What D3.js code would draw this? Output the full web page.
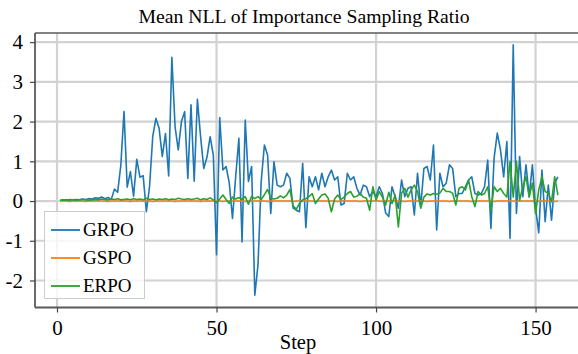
<!DOCTYPE html>
<html>
<head>
<meta charset="utf-8">
<script src="https://cdn.jsdelivr.net/npm/d3@7"></script>
<style>
  html, body { margin: 0; padding: 0; background: #fff; }
  svg { display: block; font-family: "Liberation Serif", "Times New Roman", serif; }
</style>
</head>
<body>
<svg id="chart" width="578" height="354"></svg>
<script>
// values, one per step (1..157)
const grpo = [
  0.02, 0.02, 0.03, 0.02, 0.03, 0.04, 0.03, 0.05, 0.04, 0.06,
  0.05, 0.08, 0.07, 0.10, 0.06, 0.09, 0.04, 0.30, 0.22, 0.90,
  2.25, 0.35, 0.74, 0.12, 1.05, 0.60, 0.64, -0.27, 0.36, 1.62,
  2.08, 1.83, 1.12, 1.70, 0.63, 3.62, 1.87, 1.29, 2.00, 2.25,
  0.57, 2.42, 0.50, 2.56, 1.62, 0.82, 1.10, 1.62, 1.15, -1.35,
  2.10, 0.78, 0.87, 0.45, -0.44, 0.61, 1.58, -1.03, 2.04, 0.49,
  0.87, -2.37, -1.60, 0.49, 1.41, 1.16, -0.31, 0.99, 0.40, 0.36,
  0.40, 0.70, 0.57, -0.18, -0.23, -0.27, 0.95, -0.67, 0.61, 0.36,
  0.61, 0.28, 0.70, 0.36, 0.61, 0.78, 0.53, 0.61, -0.10, -0.06,
  0.70, 0.53, 0.61, 0.32, 0.15, 0.40, 0.36, 0.11, 0.24, 0.11,
  0.36, 0.19, -0.30, -0.39, 0.36, 0.11, -0.18, 0.53, 0.11, 0.32,
  0.36, -0.35, 0.70, -0.14, 0.82, 0.87, 0.53, 1.41, -0.73, 0.70,
  0.36, 0.45, 0.91, 0.82, 0.11, 0.19, 0.19, 0.36, 0.53, 0.61,
  0.19, 0.15, 0.19, 0.36, 1.03, -0.69, 1.08, 1.71, 1.29, 0.61,
  1.50, -0.94, 3.93, -0.31, 1.12, 0.11, 0.91, 0.11, 0.91, -0.18,
  -0.80, 0.78, -0.52, 0.40, -0.48, 0.45, 0.61
];

const gspo = [
  0.00, 0.00, 0.00, -0.01, 0.00, 0.00, 0.00, 0.00, -0.01, 0.00,
  0.00, 0.00, 0.00, 0.00, 0.00, -0.01, 0.00, 0.00, 0.00, 0.00,
  0.00, 0.00, -0.01, 0.00, 0.00, 0.00, 0.00, 0.00, 0.00, -0.01,
  0.00, 0.00, 0.00, 0.00, 0.00, 0.00, -0.01, 0.00, 0.00, 0.00,
  0.00, 0.00, 0.00, 0.00, -0.01, 0.00, 0.00, 0.00, 0.00, 0.00,
  0.00, -0.01, 0.00, 0.00, 0.00, 0.00, 0.00, 0.00, -0.01, 0.00,
  0.00, 0.00, 0.00, 0.00, 0.00, -0.01, 0.00, 0.00, 0.00, 0.00,
  0.00, 0.00, 0.00, -0.01, 0.00, 0.00, 0.00, 0.00, 0.00, 0.00,
  -0.01, 0.00, 0.00, 0.00, 0.00, 0.00, 0.00, -0.01, 0.00, 0.00,
  0.00, 0.00, 0.00, 0.00, -0.01, 0.00, 0.00, 0.00, 0.00, 0.00,
  0.00, -0.01, 0.00, 0.00, 0.00, 0.00, 0.00, 0.00, -0.01, 0.00,
  0.00, 0.00, 0.00, 0.00, 0.00, -0.01, 0.00, 0.00, 0.00, 0.00,
  0.00, 0.00, -0.01, 0.00, 0.00, 0.00, 0.00, 0.00, 0.00, -0.01,
  0.00, 0.00, 0.00, 0.00, 0.00, 0.00, -0.01, 0.00, 0.00, 0.00,
  0.00, 0.00, 0.00, -0.01, 0.00, 0.00, 0.00, 0.00, 0.00, 0.00,
  -0.01, 0.00, 0.00, 0.00, 0.00, -0.01, 0.00
];

const erpo = [
  0.02, 0.03, 0.02, 0.04, 0.03, 0.02, 0.03, 0.04, 0.03, 0.02,
  0.03, 0.04, 0.03, 0.05, 0.04, 0.03, 0.05, 0.04, 0.06, 0.03,
  0.04, 0.05, 0.03, 0.06, 0.04, 0.05, 0.03, 0.07, 0.04, 0.05,
  0.03, 0.05, 0.04, 0.06, 0.03, 0.05, 0.04, 0.07, 0.05, 0.04,
  0.06, 0.04, 0.05, 0.07, 0.03, 0.06, 0.04, 0.08, 0.03, -0.04,
  0.05, 0.15, 0.04, -0.06, 0.10, 0.05, 0.09, 0.04, 0.11, -0.08,
  0.12, 0.06, 0.11, 0.04, 0.16, 0.29, 0.07, 0.05, 0.07, 0.13,
  0.08, 0.15, 0.29, -0.12, -0.21, -0.06, 0.03, 0.06, 0.11, 0.19,
  -0.06, 0.05, 0.15, 0.18, 0.07, -0.27, 0.05, 0.15, 0.04, 0.10,
  0.19, 0.24, 0.10, 0.12, 0.19, 0.10, 0.07, -0.23, 0.36, 0.02,
  0.24, 0.10, -0.10, 0.22, -0.06, 0.15, -0.65, 0.20, 0.32, 0.10,
  0.28, 0.40, 0.24, -0.18, 0.10, 0.18, 0.15, 0.19, 0.17, 0.20,
  0.32, 0.24, 0.24, 0.20, -0.10, 0.32, 0.36, 0.28, 0.53, 0.11,
  -0.14, 0.24, 0.15, 0.19, 0.36, -0.23, 0.36, 0.24, 0.32, 0.19,
  0.10, 1.00, 0.10, 1.00, 0.02, 0.36, 0.61, 0.10, 0.45, -0.31,
  0.28, 0.61, 0.24, 0.20, -0.02, 0.61, 0.15
];

const seriesNames = ['GRPO', 'GSPO', 'ERPO'];
const seriesColors = ['#1f77b4', '#ff7f0e', '#2ca02c'];
const xTicks = [0, 50, 100, 150];
const yTicks = [-2, -1, 0, 1, 2, 3, 4];
const firstStep = 1;

const svg = d3.select('#chart');
const width = 578;
const height = 354;
const margin = { top: 33, right: 0, bottom: 46.5, left: 35 };

const x = d3.scaleLinear()
  .domain([-6.9, 163.3])
  .range([margin.left, width - margin.right]);

const y = d3.scaleLinear()
  .domain([-2.68, 4.23])
  .range([height - margin.bottom, margin.top]);

const font = '"Liberation Serif", "Times New Roman", serif';

// grid
const grid = svg.append('g').attr('class', 'grid');
grid.selectAll('line.h')
  .data(yTicks)
  .enter()
  .append('line')
  .attr('class', 'h')
  .attr('x1', margin.left)
  .attr('x2', width)
  .attr('y1', d => y(d))
  .attr('y2', d => y(d))
  .attr('stroke', '#d2d2d2')
  .attr('stroke-width', 2.2);

grid.selectAll('line.v')
  .data(xTicks)
  .enter()
  .append('line')
  .attr('class', 'v')
  .attr('x1', d => x(d))
  .attr('x2', d => x(d))
  .attr('y1', margin.top)
  .attr('y2', height - margin.bottom)
  .attr('stroke', '#d2d2d2')
  .attr('stroke-width', 2.2);

// lines
const allSeries = [grpo, gspo, erpo];
const line = d3.line()
  .x((d, i) => x(firstStep + i))
  .y(d => y(d));

const plot = svg.append('g');
allSeries.forEach((vals, k) => {
  plot.append('path')
    .datum(vals)
    .attr('d', line)
    .attr('fill', 'none')
    .attr('stroke', seriesColors[k])
    .attr('stroke-width', 1.6)
    .attr('stroke-linejoin', 'round');
});

// spines
svg.append('line')
  .attr('x1', margin.left).attr('x2', width)
  .attr('y1', margin.top).attr('y2', margin.top)
  .attr('stroke', '#5a5a5a').attr('stroke-width', 1.6);
svg.append('line')
  .attr('x1', margin.left).attr('x2', margin.left)
  .attr('y1', margin.top).attr('y2', height - margin.bottom)
  .attr('stroke', '#5a5a5a').attr('stroke-width', 1.8);
svg.append('line')
  .attr('x1', margin.left).attr('x2', width)
  .attr('y1', height - margin.bottom).attr('y2', height - margin.bottom)
  .attr('stroke', '#5a5a5a').attr('stroke-width', 2.2);

// axes
const xAxis = svg.append('g')
  .attr('transform', 'translate(0,' + (height - margin.bottom) + ')')
  .call(d3.axisBottom(x).tickValues(xTicks).tickSize(5).tickPadding(8));
const yAxis = svg.append('g')
  .attr('transform', 'translate(' + margin.left + ',0)')
  .call(d3.axisLeft(y).tickValues(yTicks).tickSize(5).tickPadding(7).tickFormat(d3.format('d')));

[xAxis, yAxis].forEach(a => {
  a.select('.domain').remove();
  a.selectAll('.tick line').attr('stroke', '#444').attr('stroke-width', 1.2);
  a.selectAll('.tick text')
    .attr('fill', '#000')
    .style('font-family', font)
    .style('font-size', '21px');
});
yAxis.selectAll('.tick text').text(d => d < 0 ? '-' + Math.abs(d) : d);

// title and label
svg.append('text')
  .attr('x', 304)
  .attr('y', 23)
  .attr('text-anchor', 'middle')
  .style('font-family', font)
  .style('font-size', '19.7px')
  .text('Mean NLL of Importance Sampling Ratio');

svg.append('text')
  .attr('x', 298)
  .attr('y', 349)
  .attr('text-anchor', 'middle')
  .style('font-family', font)
  .style('font-size', '20.5px')
  .text('Step');

// legend
const legend = svg.append('g');
legend.append('rect')
  .attr('x', 44.5)
  .attr('y', 211.5)
  .attr('width', 100)
  .attr('height', 87)
  .attr('fill', 'rgba(255,255,255,0.8)')
  .attr('stroke', '#cccccc')
  .attr('stroke-width', 1);

legend.selectAll('line')
  .data(seriesNames)
  .enter()
  .append('line')
  .attr('x1', 51)
  .attr('x2', 80)
  .attr('y1', (d, i) => 230 + i * 28)
  .attr('y2', (d, i) => 230 + i * 28)
  .attr('stroke', (d, i) => seriesColors[i])
  .attr('stroke-width', 1.8);

legend.selectAll('text')
  .data(seriesNames)
  .enter()
  .append('text')
  .attr('x', 83)
  .attr('y', (d, i) => 230 + i * 28)
  .attr('dy', '0.34em')
  .style('font-family', font)
  .style('font-size', '19px')
  .text(d => d);
</script>
</body>
</html>
